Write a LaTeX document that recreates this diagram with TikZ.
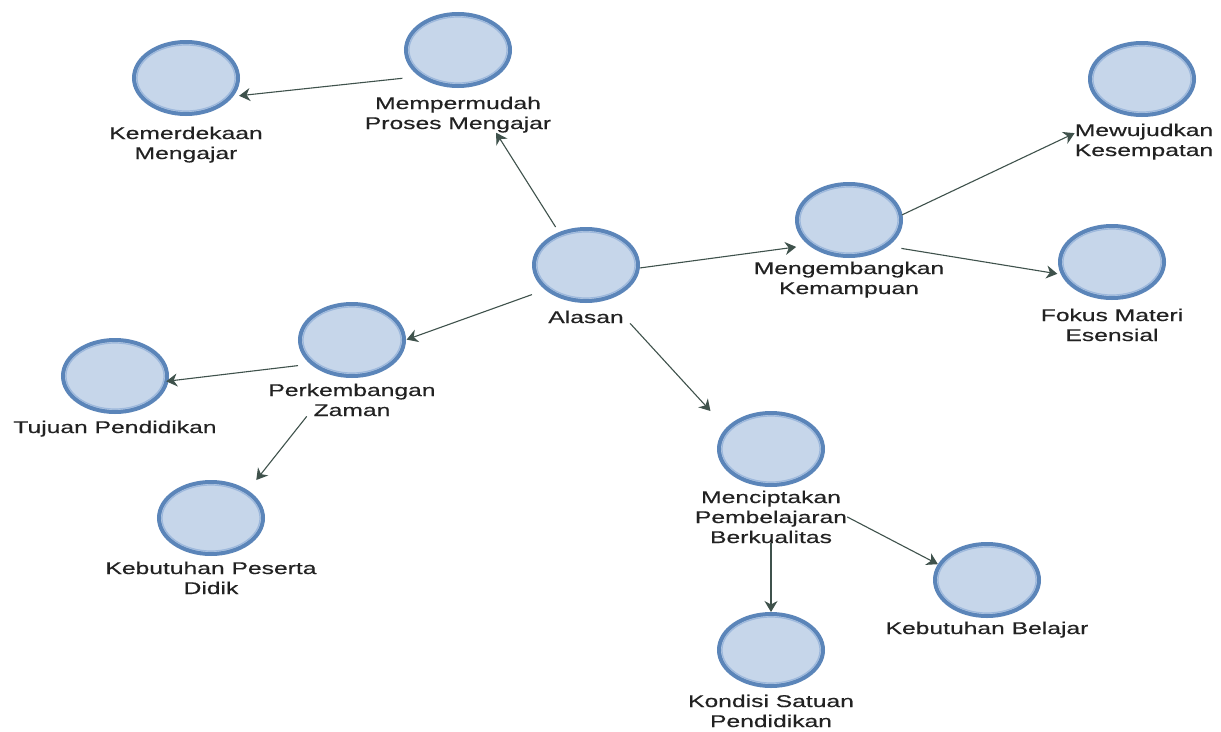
\documentclass[tikz,border=0pt]{standalone}
\usepackage{fontspec}
\setmainfont[FakeStretch=1.45,FakeBold=0.4]{Liberation Sans}
\usetikzlibrary{shapes.geometric,fit,arrows.meta}
\definecolor{bubfill}{HTML}{C6D6EA}
\definecolor{bubline}{HTML}{5B85B9}
\definecolor{bubinner}{HTML}{9DB8DC}
\definecolor{arrcol}{HTML}{3F524C}
\definecolor{txtcol}{HTML}{222222}
\begin{document}
\begin{tikzpicture}[x=1pt,y=-1pt,
  bub/.style={ellipse, draw=bubline, line width=4pt, fill=bubfill,
    minimum width=104pt, minimum height=72pt, inner sep=0pt,
    path picture={\draw[bubinner, line width=1.2pt]
      (path picture bounding box.center) ellipse [x radius=49pt, y radius=33pt];}},
  lbl/.style={anchor=north, align=center, inner sep=0pt, text=txtcol,
    font=\fontsize{17}{20}\selectfont},
  grp/.style={inner sep=0pt, outer sep=0pt},
  arr/.style={draw=arrcol, line width=1.1pt,
    -{Stealth[length=11pt,width=13pt,inset=3.5pt]}}]
\useasboundingbox[fill=white] (0,0) rectangle (1221,731);

% concepts
\node[bub] (kmC) at (186,78) {};
\node[lbl] (kmL) at (186,126.5) {Kemerdekaan\\Mengajar};
\node[grp, fit=(kmC)(kmL)] (km) {};

\node[bub] (mpC) at (458,50) {};
\node[lbl] (mpL) at (458,96.5) {Mempermudah\\Proses Mengajar};
\node[grp, fit=(mpC)(mpL)] (mp) {};

\node[bub] (alC) at (586,265) {};
\node[lbl] (alL) at (586,310.5) {Alasan};
\node[grp, fit=(alC)(alL)] (al) {};

\node[bub] (mgC) at (849,220) {};
\node[lbl] (mgL) at (849,261.5) {Mengembangkan\\Kemampuan};
\node[grp, fit=(mgC)(mgL)] (mg) {};

\node[bub] (mwC) at (1142,79) {};
\node[lbl] (mwL) at (1144,123.5) {Mewujudkan\\Kesempatan};
\node[grp, fit=(mwC)(mwL)] (mw) {};

\node[bub] (fkC) at (1112,262) {};
\node[lbl] (fkL) at (1112,308.5) {Fokus Materi\\Esensial};
\node[grp, fit=(fkC)(fkL)] (fk) {};

\node[bub] (pkC) at (352,340) {};
\node[lbl] (pkL) at (352,383.5) {Perkembangan\\Zaman};
\node[grp, fit=(pkC)(pkL)] (pk) {};

\node[bub] (tjC) at (115,376) {};
\node[lbl] (tjL) at (115,420.5) {Tujuan Pendidikan};
\node[grp, fit=(tjC)(tjL)] (tj) {};

\node[bub] (kpC) at (211,518) {};
\node[lbl] (kpL) at (211,561.5) {Kebutuhan Peserta\\Didik};
\node[grp, fit=(kpC)(kpL)] (kp) {};

\node[bub] (mcC) at (771,449) {};
\node[lbl] (mcL) at (771,490.5) {Menciptakan\\Pembelajaran\\Berkualitas};
\node[grp, fit=(mcC)(mcL)] (mc) {};

\node[bub] (kbC) at (987,580) {};
\node[lbl] (kbL) at (987,621.5) {Kebutuhan Belajar};
\node[grp, fit=(kbC)(kbL)] (kb) {};

\node[bub] (kdC) at (771,650) {};
\node[lbl] (kdL) at (771,694.5) {Kondisi Satuan\\Pendidikan};
\node[grp, fit=(kdC)(kdL)] (kd) {};

% connectors
\draw[arr, shorten <=-38pt, shorten >=-24pt] (mp) -- (km);
\draw[arr] (al) -- (mp);
\draw[arr, shorten >=-43pt] (al) -- (mg);
\draw[arr, shorten <=-47pt] (mg) -- (mw);
\draw[arr, shorten <=-43.6pt, shorten >=-17pt] (mg) -- (fk);
\draw[arr, shorten >=-31pt] (al) -- (pk);
\draw[arr, shorten <=-30pt, shorten >=-51pt] (pk) -- (tj);
\draw[arr] (pk) -- (kp);
\draw[arr] (al) -- (mc);
\draw[arr, shorten >=-48pt] (mc) -- (kb);
\draw[arr] (mc) -- (kd);
\end{tikzpicture}
\end{document}
